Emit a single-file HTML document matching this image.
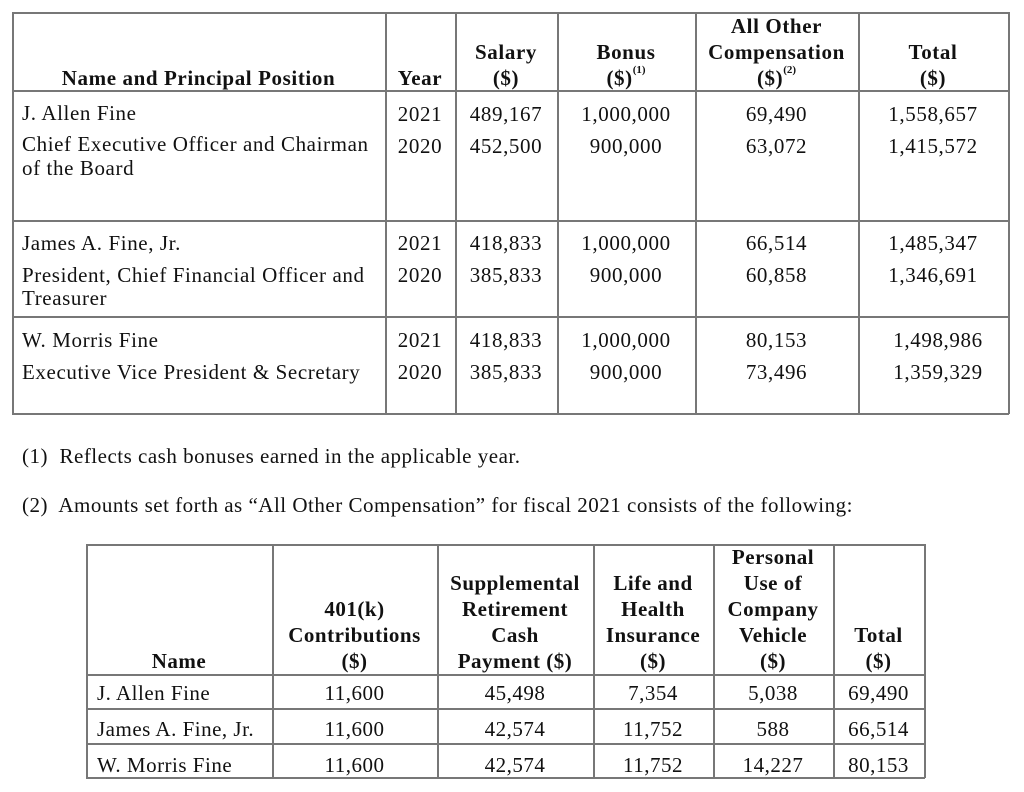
<!DOCTYPE html>
<html><head><meta charset="utf-8"><style>
body{margin:0;width:1024px;height:792px;background:#fff;position:relative;overflow:hidden;font-family:"Liberation Serif",serif;color:#111}
.l{position:absolute;background:#777}
.t{position:absolute;font-size:21px;letter-spacing:0.6px;line-height:26px;white-space:nowrap}
.c{text-align:center}
.b{font-weight:bold}
.s{font-size:21px;letter-spacing:0.5px;line-height:26px}
sup{font-size:11px;vertical-align:top;line-height:10px;letter-spacing:0}
</style></head><body>
<div class="l" style="left:12px;top:12px;width:997px;height:1.5px"></div>
<div class="l" style="left:12px;top:90px;width:997px;height:1.5px"></div>
<div class="l" style="left:12px;top:220px;width:997px;height:1.5px"></div>
<div class="l" style="left:12px;top:316px;width:997px;height:1.5px"></div>
<div class="l" style="left:12px;top:413px;width:997px;height:1.5px"></div>
<div class="l" style="left:12px;top:12px;width:1.5px;height:402px"></div>
<div class="l" style="left:385px;top:12px;width:1.5px;height:402px"></div>
<div class="l" style="left:455px;top:12px;width:1.5px;height:402px"></div>
<div class="l" style="left:557px;top:12px;width:1.5px;height:402px"></div>
<div class="l" style="left:695px;top:12px;width:1.5px;height:402px"></div>
<div class="l" style="left:858px;top:12px;width:1.5px;height:402px"></div>
<div class="l" style="left:1008px;top:12px;width:1.5px;height:402px"></div>
<div class="t b c" style="left:12px;width:373px;top:65px">Name and Principal Position</div>
<div class="t b c" style="left:385px;width:70px;top:65px">Year</div>
<div class="t b c" style="left:455px;width:102px;top:39px">Salary<br>($)</div>
<div class="t b c" style="left:557px;width:138px;top:39px">Bonus<br>($)<sup>(1)</sup></div>
<div class="t b c" style="left:695px;width:163px;top:13px">All Other<br>Compensation<br>($)<sup>(2)</sup></div>
<div class="t b c" style="left:858px;width:150px;top:39px">Total<br>($)</div>
<div class="t" style="left:22px;top:98px;line-height:31px">J. Allen Fine<br>Chief Executive Officer and Chairman</div>
<div class="t" style="left:22px;top:155px">of the Board</div>
<div class="t c" style="left:385px;width:70px;top:98px;line-height:32px">2021<br>2020</div>
<div class="t c" style="left:455px;width:102px;top:98px;line-height:32px">489,167<br>452,500</div>
<div class="t c" style="left:557px;width:138px;top:98px;line-height:32px">1,000,000<br>900,000</div>
<div class="t c" style="left:695px;width:163px;top:98px;line-height:32px">69,490<br>63,072</div>
<div class="t c" style="left:858px;width:150px;top:98px;line-height:32px">1,558,657<br>1,415,572</div>
<div class="t" style="left:22px;top:227px;line-height:32px">James A. Fine, Jr.<br>President, Chief Financial Officer and</div>
<div class="t" style="left:22px;top:285px">Treasurer</div>
<div class="t c" style="left:385px;width:70px;top:227px;line-height:32px">2021<br>2020</div>
<div class="t c" style="left:455px;width:102px;top:227px;line-height:32px">418,833<br>385,833</div>
<div class="t c" style="left:557px;width:138px;top:227px;line-height:32px">1,000,000<br>900,000</div>
<div class="t c" style="left:695px;width:163px;top:227px;line-height:32px">66,514<br>60,858</div>
<div class="t c" style="left:858px;width:150px;top:227px;line-height:32px">1,485,347<br>1,346,691</div>
<div class="t" style="left:22px;top:324px;line-height:32px">W. Morris Fine<br>Executive Vice President &amp; Secretary</div>
<div class="t c" style="left:385px;width:70px;top:324px;line-height:32px">2021<br>2020</div>
<div class="t c" style="left:455px;width:102px;top:324px;line-height:32px">418,833<br>385,833</div>
<div class="t c" style="left:557px;width:138px;top:324px;line-height:32px">1,000,000<br>900,000</div>
<div class="t c" style="left:695px;width:163px;top:324px;line-height:32px">80,153<br>73,496</div>
<div class="t c" style="left:863px;width:150px;top:324px;line-height:32px">1,498,986<br>1,359,329</div>
<div class="t" style="left:22px;top:443px;letter-spacing:0.5px">(1)&nbsp; Reflects cash bonuses earned in the applicable year.</div>
<div class="t" style="left:22px;top:492px;letter-spacing:0.5px">(2)&nbsp; Amounts set forth as “All Other Compensation” for fiscal 2021 consists of the following:</div>
<div class="l" style="left:86px;top:544px;width:839px;height:1.5px"></div>
<div class="l" style="left:86px;top:674px;width:839px;height:1.5px"></div>
<div class="l" style="left:86px;top:708px;width:839px;height:1.5px"></div>
<div class="l" style="left:86px;top:743px;width:839px;height:1.5px"></div>
<div class="l" style="left:86px;top:777px;width:839px;height:1.5px"></div>
<div class="l" style="left:86px;top:544px;width:1.5px;height:234px"></div>
<div class="l" style="left:272px;top:544px;width:1.5px;height:234px"></div>
<div class="l" style="left:437px;top:544px;width:1.5px;height:234px"></div>
<div class="l" style="left:593px;top:544px;width:1.5px;height:234px"></div>
<div class="l" style="left:713px;top:544px;width:1.5px;height:234px"></div>
<div class="l" style="left:833px;top:544px;width:1.5px;height:234px"></div>
<div class="l" style="left:924px;top:544px;width:1.5px;height:234px"></div>
<div class="t s b c" style="left:86px;width:186px;top:648px">Name</div>
<div class="t s b c" style="left:272px;width:165px;top:596px">401(k)<br>Contributions<br>($)</div>
<div class="t s b c" style="left:437px;width:156px;top:570px">Supplemental<br>Retirement<br>Cash<br>Payment ($)</div>
<div class="t s b c" style="left:593px;width:120px;top:570px">Life and<br>Health<br>Insurance<br>($)</div>
<div class="t s b c" style="left:713px;width:120px;top:544px">Personal<br>Use of<br>Company<br>Vehicle<br>($)</div>
<div class="t s b c" style="left:833px;width:91px;top:622px">Total<br>($)</div>
<div class="t s" style="left:97px;top:675px;line-height:36px">J. Allen Fine<br>James A. Fine, Jr.<br>W. Morris Fine</div>
<div class="t s c" style="left:272px;width:165px;top:675px;line-height:36px">11,600<br>11,600<br>11,600</div>
<div class="t s c" style="left:437px;width:156px;top:675px;line-height:36px">45,498<br>42,574<br>42,574</div>
<div class="t s c" style="left:593px;width:120px;top:675px;line-height:36px">7,354<br>11,752<br>11,752</div>
<div class="t s c" style="left:713px;width:120px;top:675px;line-height:36px">5,038<br>588<br>14,227</div>
<div class="t s c" style="left:833px;width:91px;top:675px;line-height:36px">69,490<br>66,514<br>80,153</div>
</body></html>
